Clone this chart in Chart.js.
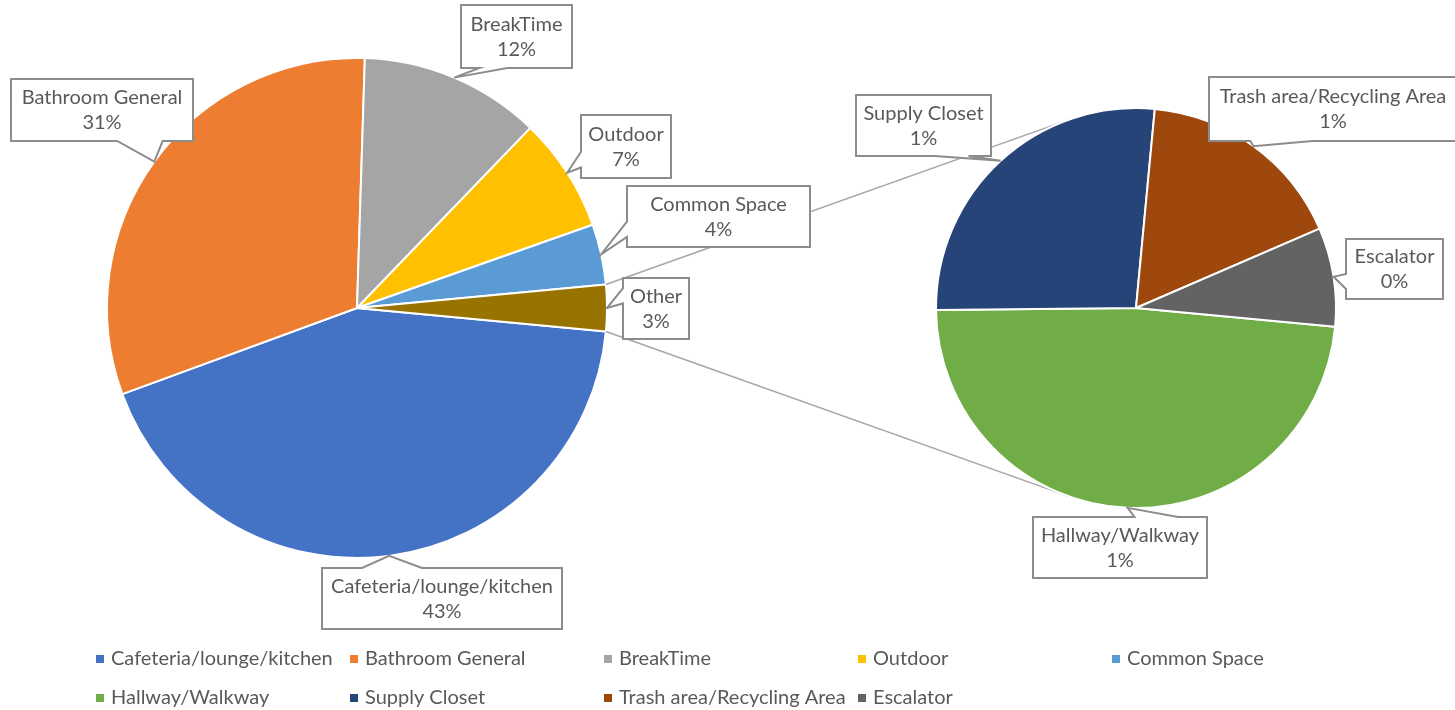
<!DOCTYPE html>
<html><head><meta charset="utf-8">
<script src="https://cdn.jsdelivr.net/npm/chart.js@4"></script>
<style>
html,body{margin:0;padding:0;background:#fff;}
#wrap{position:relative;width:1455px;height:710px;overflow:hidden;background:#fff;}
#wrap canvas{position:absolute;left:0;top:0;}
</style></head><body>
<div id="wrap"><canvas id="main" width="1455" height="710"></canvas><canvas id="sub" width="1455" height="710"></canvas></div>
<script>
// ---- data ----
const mainLabels = ['Cafeteria/lounge/kitchen', 'Bathroom General', 'BreakTime', 'Outdoor', 'Common Space'];
const mainValues = [42.9, 31.1, 11.7, 7.4, 3.9];
const otherLabel = 'Other';
const subLabels = ['Hallway/Walkway', 'Supply Closet', 'Trash area/Recycling Area', 'Escalator'];
const subValues = [1.45, 0.80, 0.51, 0.24];

// ---- styles ----
const mainColors = ['#4472C4', '#ED7D31', '#A5A5A5', '#FFC000', '#5B9BD5'];
const otherColor = '#997300';
const subColors = ['#70AD47', '#264478', '#9E480E', '#636363'];
const FONT = '20px Lato, "Open Sans", sans-serif';
const TEXT = '#595959';

// ---- derived ----
const otherValue = subValues.reduce((a, b) => a + b, 0);
const pieLabels = mainLabels.concat([otherLabel]);
const pieValues = mainValues.concat([otherValue]);
const pieColors = mainColors.concat([otherColor]);
const grandTotal = pieValues.reduce((a, b) => a + b, 0);
const rotation = 90 + (otherValue / grandTotal) * 180;
const pct = v => Math.round(v / grandTotal * 100) + '%';

// callout boxes (layout), order follows pieLabels / subLabels
const mainBoxes = [
  {x: 322, y: 568, w: 240, h: 61},
  {x: 11, y: 79, w: 182, h: 62},
  {x: 461, y: 5, w: 111, h: 63},
  {x: 581, y: 115, w: 90, h: 63},
  {x: 627, y: 186, w: 183, h: 61},
  {x: 623, y: 278, w: 66, h: 61}
];
const subBoxes = [
  {x: 1033, y: 517, w: 174, h: 61},
  {x: 856, y: 95, w: 135, h: 61},
  {x: 1209, y: 77, w: 248, h: 64},
  {x: 1346, y: 239, w: 97, h: 60}
];

function callout(ctx, box, tip, lines) {
  const l = box.x, t = box.y, w = box.w, h = box.h, r = l + w, b = t + h;
  const hc = l + w / 2, vc = t + h / 2;
  const dx = tip.x - hc, dy = tip.y - vc;
  const dz = Math.abs(dy) - Math.abs(dx * h / w);
  const x1 = l + w * (dx > 0 ? 7 : 2) / 12, x2 = l + w * (dx > 0 ? 10 : 5) / 12;
  const y1 = t + h * (dy > 0 ? 7 : 2) / 12, y2 = t + h * (dy > 0 ? 10 : 5) / 12;
  ctx.save();
  ctx.beginPath();
  ctx.moveTo(l, t);
  if (dz > 0 && dy < 0) { ctx.lineTo(x1, t); ctx.lineTo(tip.x, tip.y); ctx.lineTo(x2, t); }
  ctx.lineTo(r, t);
  if (dz <= 0 && dx > 0) { ctx.lineTo(r, y1); ctx.lineTo(tip.x, tip.y); ctx.lineTo(r, y2); }
  ctx.lineTo(r, b);
  if (dz > 0 && dy > 0) { ctx.lineTo(x2, b); ctx.lineTo(tip.x, tip.y); ctx.lineTo(x1, b); }
  ctx.lineTo(l, b);
  if (dz <= 0 && dx <= 0) { ctx.lineTo(l, y2); ctx.lineTo(tip.x, tip.y); ctx.lineTo(l, y1); }
  ctx.closePath();
  ctx.fillStyle = '#fff';
  ctx.fill();
  ctx.lineWidth = 2;
  ctx.strokeStyle = '#8C8C8C';
  ctx.lineJoin = 'miter';
  ctx.stroke();
  ctx.fillStyle = TEXT;
  ctx.font = FONT;
  ctx.textAlign = 'center';
  ctx.textBaseline = 'middle';
  ctx.fillText(lines[0], hc, vc - 12);
  ctx.fillText(lines[1], hc, vc + 13);
  ctx.restore();
}

function tipOf(arc) {
  const mid = (arc.startAngle + arc.endAngle) / 2;
  return {x: arc.x + Math.cos(mid) * arc.outerRadius, y: arc.y + Math.sin(mid) * arc.outerRadius};
}

function drawLabels(chart, labels, values, boxes) {
  const meta = chart.getDatasetMeta(0);
  meta.data.forEach((arc, i) => {
    callout(chart.ctx, boxes[i], tipOf(arc), [labels[i], pct(values[i])]);
  });
}

// secondary pie (top canvas)
const subChart = new Chart(document.getElementById('sub'), {
  type: 'pie',
  data: {labels: subLabels, datasets: [{data: subValues, backgroundColor: subColors, borderColor: '#fff', borderWidth: 2}]},
  options: {
    responsive: false, animation: false, devicePixelRatio: 1,
    rotation: rotation,
    layout: {padding: {left: 935, top: 107, right: 118, bottom: 201}},
    plugins: {legend: {display: false}, tooltip: {enabled: false}},
    events: []
  },
  plugins: [{
    id: 'subLabels',
    afterDatasetsDraw(chart) { drawLabels(chart, subLabels, subValues, subBoxes); }
  }]
});

// main pie (bottom canvas)
new Chart(document.getElementById('main'), {
  type: 'pie',
  data: {labels: pieLabels, datasets: [{data: pieValues, backgroundColor: pieColors, borderColor: '#fff', borderWidth: 2}]},
  options: {
    responsive: false, animation: false, devicePixelRatio: 1,
    rotation: rotation,
    layout: {padding: {left: 106, top: 57, right: 847, bottom: 151}},
    plugins: {legend: {display: false}, tooltip: {enabled: false}},
    events: []
  },
  plugins: [{
    id: 'pieOfPie',
    afterDatasetsDraw(chart) {
      const ctx = chart.ctx;
      const meta = chart.getDatasetMeta(0);
      const other = meta.data[meta.data.length - 1];
      const s = subChart.getDatasetMeta(0).data[0];
      const C = {x: s.x, y: s.y}, R2 = s.outerRadius;
      const ends = [
        {a: other.startAngle, sign: -1},
        {a: other.endAngle, sign: 1}
      ];
      ctx.save();
      ctx.strokeStyle = '#A6A6A6';
      ctx.lineWidth = 1.5;
      ends.forEach(e => {
        const P = {x: other.x + Math.cos(e.a) * other.outerRadius, y: other.y + Math.sin(e.a) * other.outerRadius};
        const d = Math.hypot(C.x - P.x, C.y - P.y);
        const th = Math.atan2(C.y - P.y, C.x - P.x);
        const al = Math.asin(R2 / d);
        const phi = th + e.sign * al;
        const L = Math.sqrt(d * d - R2 * R2);
        ctx.beginPath();
        ctx.moveTo(P.x, P.y);
        ctx.lineTo(P.x + Math.cos(phi) * L, P.y + Math.sin(phi) * L);
        ctx.stroke();
      });
      ctx.restore();
      drawLabels(chart, pieLabels, pieValues, mainBoxes);

      // legend
      const items = [];
      mainLabels.forEach((l, i) => items.push({label: l, color: mainColors[i]}));
      subLabels.forEach((l, i) => items.push({label: l, color: subColors[i]}));
      ctx.save();
      ctx.font = FONT;
      ctx.textBaseline = 'middle';
      ctx.textAlign = 'left';
      items.forEach((it, i) => {
        const col = i % 5, row = Math.floor(i / 5);
        const x = 96 + col * 254, y = 659 + row * 39;
        ctx.fillStyle = it.color;
        ctx.fillRect(x, y - 4, 8, 8);
        ctx.fillStyle = TEXT;
        ctx.fillText(it.label, x + 15, y);
      });
      ctx.restore();
    }
  }]
});
</script>
</body></html>
